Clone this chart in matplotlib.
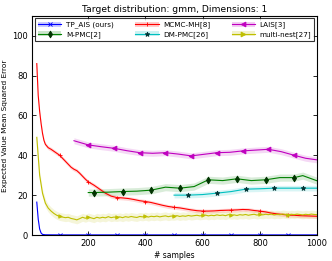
import numpy as np
import matplotlib.pyplot as plt
from matplotlib.patches import Patch
from matplotlib.lines import Line2D

plt.rcParams.update({"font.family": "DejaVu Sans", "font.size": 6})

# ---- data ----
tp_x = [20, 25, 30, 35, 40, 50, 100, 200, 300, 400, 500, 600, 700, 800, 900, 1000]
tp_y = [16.5, 8.0, 3.0, 1.0, 0.3, 0.1, 0.05, 0.05, 0.05, 0.05, 0.05, 0.05, 0.05, 0.05, 0.05, 0.05]

mh_x = [20, 25, 30, 35, 40, 45, 50, 60, 70, 80, 90, 100, 110, 120, 130, 140, 150, 160,
        170, 180, 190, 200, 220, 240, 260, 280, 300, 320, 340, 360, 380, 400, 420, 440,
        460, 480, 500, 520, 540, 560, 580, 600, 620, 640, 660, 680, 700, 720, 740, 760,
        780, 800, 820, 840, 860, 880, 900, 920, 940, 960, 980, 1000]
mh_y = [86, 70, 62, 56, 51, 47.5, 45.5, 43.8, 43, 42, 41, 40, 38.5, 37, 35.5, 34, 33, 32.3,
        31, 29.5, 28, 26.7, 25, 23, 21, 19.5, 18.8, 18.6, 18.3, 17.8, 17.2, 16.8, 16.3, 15.6,
        14.9, 14.3, 13.9, 13.6, 13.1, 12.6, 12.2, 12.0, 12.0, 12.1, 12.3, 12.4, 12.5, 12.6, 12.8, 12.7,
        12.3, 12.0, 11.6, 11.0, 10.6, 10.3, 10.0, 9.9, 9.7, 9.6, 9.5, 9.4]

lais_x = [150, 200, 245, 290, 335, 380, 425, 470, 515, 560, 605, 650, 695, 740, 785,
          830, 875, 920, 960, 1000]
lais_y = [47.3, 45.2, 44.3, 43.5, 42.3, 41.3, 41.0, 41.3, 40.6, 39.7, 40.5, 41.3, 41.5, 42.2,
          42.6, 43.0, 41.8, 40.0, 38.5, 37.7]

mpmc_x = [200, 220, 270, 320, 370, 420, 470, 520, 570, 620, 670, 720, 770, 820, 870, 920, 950, 1000]
mpmc_y = [21.3, 21.3, 21.5, 21.8, 22.0, 22.5, 24.0, 23.5, 24.3, 27.7, 27.3, 28.2, 27.3, 27.7,
          28.8, 28.8, 29.8, 27.2]

dmpmc_x = [500, 550, 600, 650, 700, 750, 800, 850, 900, 950, 1000]
dmpmc_y = [20, 20, 20.3, 21, 21.8, 23, 23.2, 23.5, 23.5, 23.5, 23.5]

mn_x = list(range(20, 1001, 10))
mn_y = [49, 30, 21, 16, 13.5, 12, 10.8, 9.9, 9.3,
        9.0, 8.7, 8.9, 8.3, 8.0, 7.6, 8.2, 8.9, 8.4, 9.0,
        8.6, 8.2, 8.9, 8.5, 8.9, 8.6, 9.2, 8.7, 9.0, 8.8,
        9.1, 8.7, 9.2, 8.9, 9.3, 9.0, 8.8, 9.3, 9.1, 9.4,
        9.0, 9.4, 9.2, 9.5, 9.1, 9.4, 9.6, 9.2, 9.5, 9.4,
        9.7, 9.3, 9.6, 9.4, 9.8, 9.5, 9.7, 9.9, 9.6, 9.8,
        10.0, 9.6, 9.9, 9.7, 10.1, 9.8, 10.0, 9.7, 10.2, 9.9,
        10.1, 9.8, 10.2, 10.0, 10.3, 9.9, 10.2, 10.4, 10.0, 10.3,
        10.1, 10.4, 10.2, 10.5, 10.1, 10.4, 10.2, 10.5, 10.3, 10.1,
        10.4, 10.2, 10.5, 10.3, 10.1, 10.4, 10.2, 10.5, 10.3, 10.2]

# (label, x, y, band half-width, colour, marker, marker edge, marker x positions)
series = [
    ("TP_AIS (ours)", tp_x, tp_y, 0.3, "b", "x", "b", range(100, 1000, 100)),
    ("MCMC-MH[8]", mh_x, mh_y, 1.0, "r", "+", "r", range(100, 1000, 100)),
    ("LAIS[3]", lais_x, lais_y, 1.5, "m", "<", "m", range(200, 1000, 90)),
    ("M-PMC[2]", mpmc_x, mpmc_y, 1.8, "g", "d", "#003300", range(220, 1000, 100)),
    ("DM-PMC[26]", dmpmc_x, dmpmc_y, 1.4, "c", "*", "#003333", range(550, 1000, 100)),
    ("multi-nest[27]", mn_x, mn_y, 2.0, "y", ">", "y", range(100, 1000, 100)),
]

fig = plt.figure(figsize=(3.32, 2.61), dpi=100)
ax = fig.add_axes([0.097, 0.0996, 0.858, 0.84])

handles = []
for label, x, y, sd, col, mk, ec, marks in series:
    x = np.asarray(x, float)
    y = np.asarray(y, float)
    ax.fill_between(x, y - sd, y + sd, color=col, alpha=0.15, lw=0)
    idx = [i for i, v in enumerate(x) if v in set(marks)]
    ms = 2.5 if mk == ">" else 3.5
    ax.plot(x, y, color=col, lw=0.8, marker=mk, markevery=idx, ms=ms,
            mec=ec, mew=0.6, mfc=ec if mk in "d*" else col)
    line = Line2D([], [], color=col, lw=0.8, marker=mk, ms=3.5,
                  mec=ec, mew=0.6, mfc=ec if mk in "d*" else col)
    handles.append((Patch(facecolor=col, alpha=0.2, lw=0), line))

ax.set_xlim(4, 1000)
ax.set_ylim(0, 110)
ax.set_xticks([200, 400, 600, 800, 1000])
ax.set_yticks([0, 20, 40, 60, 80, 100])
ax.tick_params(direction="in", top=True, right=True, length=3, width=0.6, labelsize=6, pad=3)
for s in ax.spines.values():
    s.set_linewidth(0.8)

ax.set_title("Target distribution: gmm, Dimensions: 1", fontsize=6.6, pad=3)
ax.set_xlabel("# samples", fontsize=5.5, labelpad=2)
ax.set_ylabel("Expected Value Mean Squared Error", fontsize=5.3, labelpad=3)

# legend fills column-wise, so reorder to read row-wise like the reference
order = [0, 3, 1, 4, 2, 5]
leg = ax.legend([handles[i] for i in order], [series[i][0] for i in order],
                ncol=3, loc="upper left", numpoints=1,
                bbox_to_anchor=(0.005, 0.995, 0.99, 0.0), mode="expand",
                fontsize=5.2, frameon=True, fancybox=False, borderaxespad=0.2,
                handlelength=3.2, handletextpad=0.6, borderpad=0.45, labelspacing=0.4)
leg.get_frame().set_edgecolor("k")
leg.get_frame().set_linewidth(0.8)

fig.savefig("out.png", dpi=100)
